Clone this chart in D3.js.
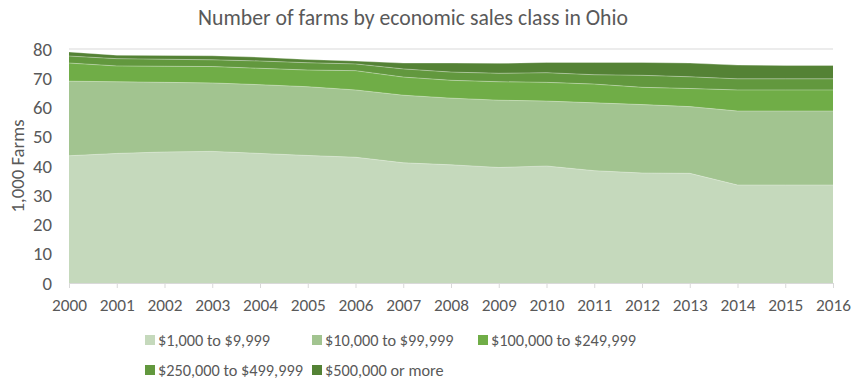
<!DOCTYPE html>
<html>
<head>
<meta charset="utf-8">
<script src="https://cdn.jsdelivr.net/npm/d3@7"></script>
<style>
  html, body { margin: 0; padding: 0; background: #fff; }
  svg { display: block; }
  text { font-family: Carlito, Calibri, Lato, "Open Sans", sans-serif; fill: #595959; }
</style>
</head>
<body>
<svg id="chart" width="852" height="379"></svg>
<script>
// Ohio farms (thousands) by economic sales class, 2000–2016
const years = [2000, 2001, 2002, 2003, 2004, 2005, 2006, 2007, 2008,
               2009, 2010, 2011, 2012, 2013, 2014, 2015, 2016];
const seriesNames = ["$1,000 to $9,999", "$10,000 to $99,999", "$100,000 to $249,999",
                     "$250,000 to $499,999", "$500,000 or more"];
const class1to10k    = [43.5, 44.3, 44.8, 45.0, 44.3, 43.6, 43.0, 41.1, 40.4, 39.5, 40.0, 38.4, 37.6, 37.5, 33.5, 33.5, 33.5];
const class10to100k  = [25.5, 24.5, 23.8, 23.4, 23.5, 23.5, 23.0, 23.1, 22.8, 23.0, 22.2, 23.2, 23.4, 22.8, 25.3, 25.3, 25.3];
const class100to250k = [6.2, 5.4, 5.5, 5.6, 5.6, 5.7, 6.6, 6.2, 6.1, 6.3, 6.4, 6.4, 5.9, 6.2, 7.2, 7.2, 7.2];
const class250to500k = [2.4, 2.5, 2.4, 2.3, 2.5, 2.5, 2.3, 2.8, 2.8, 2.9, 3.3, 3.2, 4.1, 4.0, 3.8, 3.8, 3.8];
const class500kPlus  = [1.4, 1.2, 1.3, 1.4, 1.3, 1.1, 1.0, 2.0, 3.1, 3.4, 3.5, 4.2, 4.4, 4.7, 4.7, 4.6, 4.6];
const yTicks = [0, 10, 20, 30, 40, 50, 60, 70, 80];
const colors = ["#c5d9bc", "#a2c490", "#70ad47", "#62983e", "#548235"];

const seriesValues = [class1to10k, class10to100k, class100to250k, class250to500k, class500kPlus];
const rows = years.map((yr, i) => {
  const r = { year: yr };
  seriesNames.forEach((n, k) => { r[n] = seriesValues[k][i]; });
  return r;
});

const svg = d3.select("#chart");
const plot = { left: 69, right: 833, top: 49, bottom: 283 };
const FONT = "Carlito, Calibri, Lato, 'Open Sans', sans-serif";

const x = d3.scaleLinear().domain([years[0], years[years.length - 1]]).range([plot.left, plot.right]);
const y = d3.scaleLinear().domain([0, 80]).range([plot.bottom, plot.top]);

// Scale a selection's font size so that a reference text element spans the given width
function fitFont(sel, refNode, width, base) {
  const w = refNode.getComputedTextLength();
  const size = base * width / w;
  sel.style("font-size", size.toFixed(2) + "px");
  return size;
}

// Title
const title = svg.append("text")
  .attr("x", 413).attr("y", 25)
  .attr("text-anchor", "middle")
  .style("font-size", "18px")
  .text("Number of farms by economic sales class in Ohio");
fitFont(title, title.node(), 430, 18);

// Horizontal gridlines
svg.append("g")
  .selectAll("line")
  .data(yTicks)
  .join("line")
  .attr("x1", plot.left).attr("x2", plot.right)
  .attr("y1", d => y(d)).attr("y2", d => y(d))
  .attr("stroke", "#d9d9d9").attr("stroke-width", 1);

// Stacked areas
const stack = d3.stack().keys(seriesNames);
const layers = stack(rows);
const area = d3.area()
  .x(d => x(d.data.year))
  .y0(d => y(d[0]))
  .y1(d => y(d[1]));
const topLine = d3.line()
  .x(d => x(d.data.year))
  .y(d => y(d[1]));

svg.append("g")
  .selectAll("path")
  .data(layers)
  .join("path")
  .attr("d", area)
  .attr("fill", (d, i) => colors[i]);

svg.append("g")
  .selectAll("path")
  .data(layers)
  .join("path")
  .attr("d", topLine)
  .attr("fill", "none")
  .attr("stroke", "rgba(255,255,255,0.4)")
  .attr("stroke-width", 0.8);

// X axis
const xAxis = d3.axisBottom(x)
  .tickValues(years)
  .tickFormat(d3.format("d"))
  .tickSizeInner(5)
  .tickSizeOuter(0)
  .tickPadding(11);
const gx = svg.append("g")
  .attr("transform", `translate(0,${plot.bottom})`)
  .call(xAxis);
gx.select(".domain").attr("stroke", "#d9d9d9");
gx.selectAll(".tick line").attr("stroke", "#d9d9d9");
const xLabels = gx.selectAll(".tick text")
  .style("font-size", "15px")
  .style("font-family", FONT)
  .attr("fill", "#595959");
fitFont(xLabels, xLabels.node(), 35, 15);

// Y axis
const yAxis = d3.axisLeft(y)
  .tickValues(yTicks)
  .tickSize(0)
  .tickPadding(17);
const gy = svg.append("g")
  .attr("transform", `translate(${plot.left},0)`)
  .call(yAxis);
gy.select(".domain").remove();
const yLabels = gy.selectAll(".tick text")
  .style("font-size", "15px")
  .style("font-family", FONT)
  .attr("fill", "#595959");
fitFont(yLabels, yLabels.nodes()[yLabels.size() - 1], 19, 15);

// Y axis title
const yTitle = svg.append("text")
  .attr("transform", `translate(24,${(plot.top + plot.bottom) / 2}) rotate(-90)`)
  .attr("text-anchor", "middle")
  .style("font-size", "15px")
  .text("1,000 Farms");
fitFont(yTitle, yTitle.node(), 93, 15);

// Legend
const legendPos = [
  { x: 145, y: 340 }, { x: 312, y: 340 }, { x: 478, y: 340 },
  { x: 145, y: 370 }, { x: 312, y: 370 }
];
const legend = svg.append("g")
  .selectAll("g")
  .data(seriesNames)
  .join("g")
  .attr("transform", (d, i) => `translate(${legendPos[i].x},${legendPos[i].y})`);
legend.append("rect")
  .attr("x", 0).attr("y", -5).attr("width", 10).attr("height", 10)
  .attr("fill", (d, i) => colors[i]);
const legendText = legend.append("text")
  .attr("x", 13).attr("y", 0)
  .attr("dy", "0.35em")
  .style("font-size", "15px")
  .text(d => d);
fitFont(legendText, legendText.node(), 112, 15);
</script>
</body>
</html>
